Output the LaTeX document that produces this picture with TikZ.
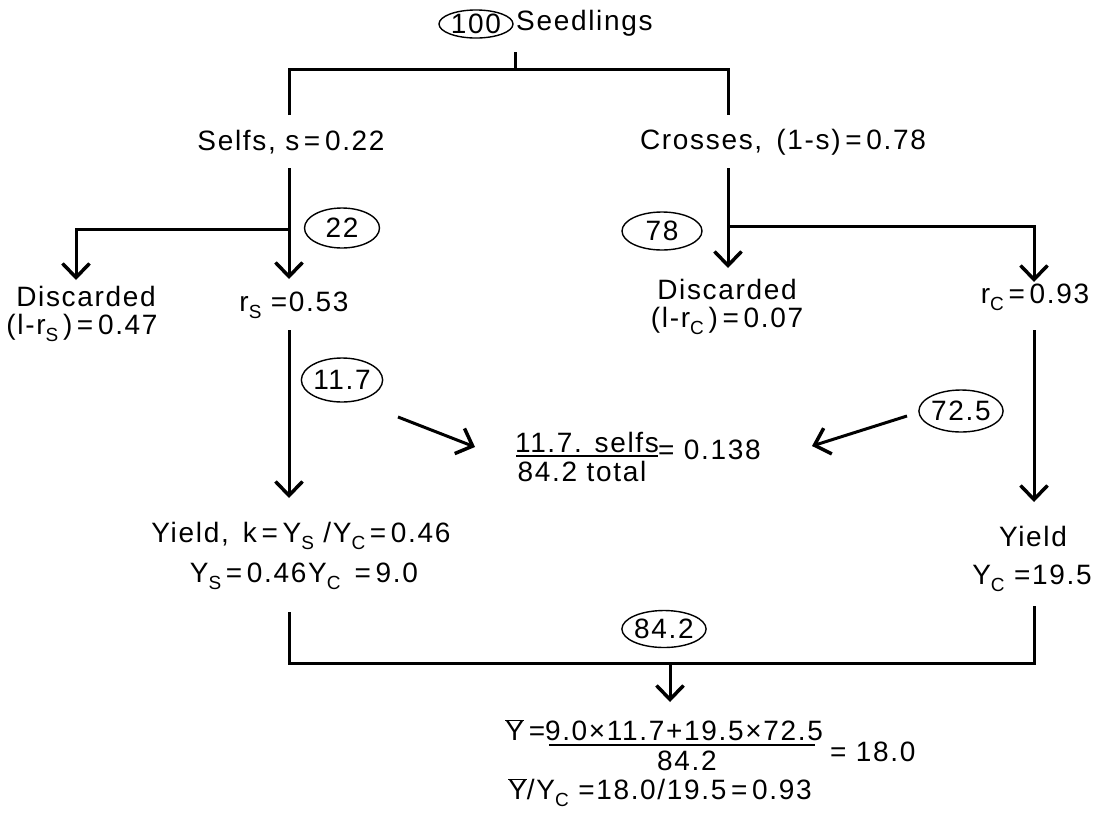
\documentclass[tikz,border=0pt]{standalone}
\usepackage{fontspec}
\setmainfont[LetterSpace=6]{Liberation Sans}
\usetikzlibrary{arrows.meta,shapes.geometric}
\newcommand\sbs[1]{\raisebox{-0.45ex}{\fontsize{19}{19}\selectfont #1}}
\newcommand\ybar{$\overline{\mbox{Y}}$}
\begin{document}
\begin{tikzpicture}[x=1pt,y=-1pt,
  every node/.style={font=\fontsize{28}{32}\selectfont, inner sep=0pt},
  ln/.style={line width=3pt},
  arr/.style={line width=3pt,-{Straight Barb[length=14pt,width=27pt,line width=3.5pt]}},
  oval/.style={draw,ellipse,line width=1.4pt,inner sep=0pt,minimum width=#1,minimum height=38pt},
  oval/.default=72pt,
  frule/.style={line width=2pt}]
\useasboundingbox (0,0) rectangle (1101,815);

% top
\node[oval=74pt,minimum height=28pt] (n100) at (476,24) {100};
\node[anchor=west] (seed) at (516,23) {Seedlings};
\coordinate (tickT) at (515,52);
\coordinate (tickB) at (515,69);
\coordinate (L0) at (289,115);
\coordinate (R0) at (728,115);
\draw[ln] (tickT) -- (tickB);
\draw[ln] (L0) |- (tickB) -| (R0);

\node (selfs) at (291,142) {Selfs, s\,=\,0.22};
\node (cross) at (783,142) {Crosses,\, (1-s)\,=\,0.78};

% left branch
\coordinate (sA) at (289,168);
\coordinate (sB) at (289,229);
\coordinate (sTip) at (289,279);
\coordinate (lTip) at (76,280);
\draw[arr] (sA) -- (sTip);
\draw[arr] (sB) -| (lTip);
\node[oval=75pt,minimum height=40pt] (o22) at (342,228) {22};
\node (disL) at (86,296) {Discarded};
\node (disLv) at (82,328) {(l-r\sbs{S}\,)\,=\,0.47};
\node (rs) at (294,305) {r\sbs{S} =0.53};

% right branch
\coordinate (cA) at (728,168);
\coordinate (cB) at (728,226);
\coordinate (cTip) at (728,268);
\coordinate (rTip) at (1034,282);
\draw[arr] (cA) -- (cTip);
\draw[arr] (cB) -| (rTip);
\node[oval=80pt] (o78) at (662,231) {78};
\node (disR) at (727,289) {Discarded};
\node (disRv) at (727,321) {(l-r\sbs{C}\,)\,=\,0.07};
\node (rc) at (1035,297) {r\sbs{C}\,=\,0.93};

% middle
\coordinate (sC) at (289,330);
\coordinate (sTip2) at (289,498);
\draw[arr] (sC) -- (sTip2);
\node[oval=77pt,minimum height=44pt] (o117) at (342,380) {11.7};
\coordinate (cC) at (1034,330);
\coordinate (cTip2) at (1034,502);
\draw[arr] (cC) -- (cTip2);
\node[oval=76pt,minimum height=42pt] (o725) at (961,411) {72.5};

\node[anchor=south] (fnum) at (587,453) {11.7. selfs};
\draw[frule] (516,456) -- (658,456);
\node[anchor=north] (fden) at (582,461) {84.2 total};
\node[anchor=west] (feq) at (658,450) {= 0.138};
\coordinate (aL1) at (398,417);
\coordinate (aL2) at (475,447);
\draw[arr] (aL1) -- (aL2);
\coordinate (aR1) at (907,416);
\coordinate (aR2) at (812,446);
\draw[arr] (aR1) -- (aR2);

% yields
\node (yieldL) at (301,536) {Yield,\, k\,=\,Y\sbs{S} /Y\sbs{C}\,=\,0.46};
\node (ysL) at (304,576) {Y\sbs{S}\,=\,0.46Y\sbs{C} \,=\,9.0};
\node (yieldR) at (1033,536) {Yield};
\node (ycR) at (1032,578) {Y\sbs{C} =19.5};

% bottom bracket
\coordinate (bL) at (289,612);
\coordinate (bR) at (1034,606);
\coordinate (bar) at (670,663);
\coordinate (bTip) at (670,702);
\draw[ln] (bL) |- (bar) -| (bR);
\draw[arr] (bar) -- (bTip);
\node[oval=72pt,minimum height=37pt] (o842) at (664,629) {84.2};

% formula
\node[anchor=east] (yb) at (550,730) {\ybar\,=\,};
\node[anchor=south] (ynum) at (684,741) {9.0×11.7+19.5×72.5};
\draw[frule] (549,745) -- (815,745);
\node[anchor=north] (yden) at (687,751) {84.2};
\node[anchor=west] (yres) at (830,752) {= 18.0};
\node[anchor=north] (ratio) at (660,778) {\ybar/Y\sbs{C} =18.0/19.5\,=\,0.93};
\end{tikzpicture}
\end{document}
